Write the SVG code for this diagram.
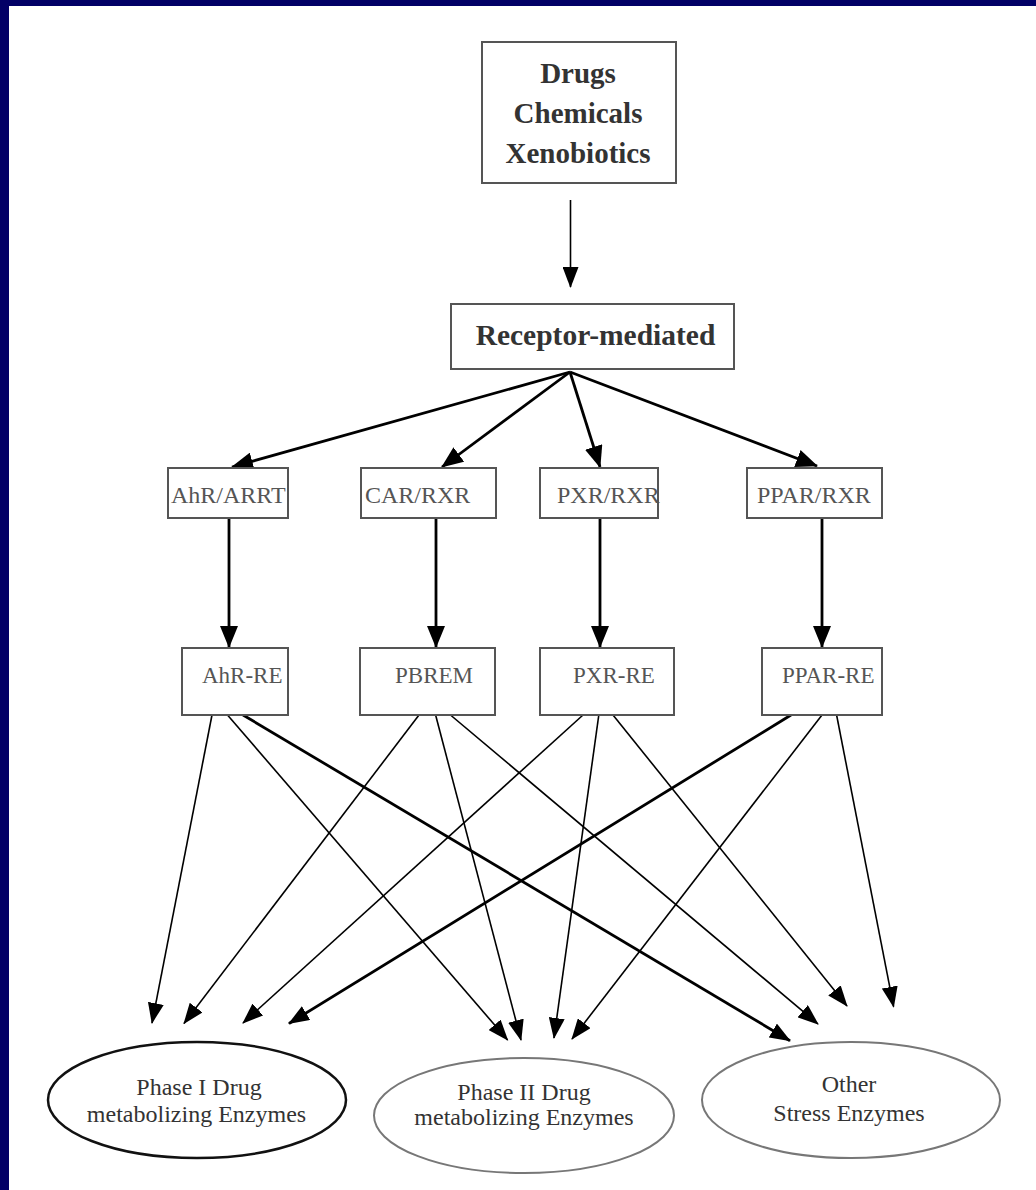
<svg xmlns="http://www.w3.org/2000/svg" width="1036" height="1190" viewBox="0 0 1036 1190">
  <defs>
    <marker id="ah" markerUnits="userSpaceOnUse" markerWidth="22" markerHeight="18" refX="21" refY="9" orient="auto">
      <path d="M0,0 L22,9 L0,18 z" fill="#000"/>
    </marker>
    <marker id="ahs" markerUnits="userSpaceOnUse" markerWidth="21" markerHeight="16" refX="20" refY="8" orient="auto">
      <path d="M0,0 L21,8 L0,16 z" fill="#000"/>
    </marker>
    <style>
      .box { fill: #fff; stroke: #555; stroke-width: 2; }
      .bold { font-family: "Liberation Serif", "Times New Roman", serif; font-weight: bold; font-size: 29px; fill: #333; text-anchor: middle; }
      .lbl { font-family: "Liberation Serif", "Times New Roman", serif; font-size: 24px; fill: #555; }
      .lbl3 { font-family: "Liberation Serif", "Times New Roman", serif; font-size: 23px; fill: #555; }
      .ell { fill: #fff; stroke: #777; stroke-width: 2; }
      .etx { font-family: "Liberation Serif", "Times New Roman", serif; font-size: 24px; fill: #333; text-anchor: middle; }
      .c { stroke: #000; fill: none; }
      .thick { stroke-width: 2.8; }
      .thin { stroke-width: 1.6; }
    </style>
  </defs>
  <rect x="0" y="0" width="1036" height="1190" fill="#fff"/>
  <rect x="0" y="0" width="1036" height="6" fill="#020066"/>
  <rect x="0" y="0" width="9" height="1190" fill="#020066"/>

  <g id="connectors">
    <line class="c thin" x1="570.5" y1="200" x2="570.5" y2="287" marker-end="url(#ahs)"/>
    <line class="c thick" x1="570" y1="372" x2="232" y2="467" marker-end="url(#ah)"/>
    <line class="c thick" x1="570" y1="372" x2="442" y2="467" marker-end="url(#ah)"/>
    <line class="c thick" x1="570" y1="372" x2="600" y2="467" marker-end="url(#ah)"/>
    <line class="c thick" x1="570" y1="372" x2="817" y2="466" marker-end="url(#ah)"/>
    <line class="c thick" x1="229" y1="518" x2="229" y2="647" marker-end="url(#ah)"/>
    <line class="c thick" x1="436" y1="518" x2="436" y2="647" marker-end="url(#ah)"/>
    <line class="c thick" x1="600" y1="518" x2="600" y2="647" marker-end="url(#ah)"/>
    <line class="c thick" x1="822" y1="518" x2="822" y2="647" marker-end="url(#ah)"/>
    <line class="c thin" x1="212" y1="715" x2="152" y2="1023" marker-end="url(#ahs)"/>
    <line class="c thin" x1="227.5" y1="715" x2="507.6" y2="1040" marker-end="url(#ahs)"/>
    <line class="c thick" x1="243" y1="715" x2="790" y2="1040.7" marker-end="url(#ahs)"/>
    <line class="c thin" x1="419" y1="715" x2="184" y2="1023.5" marker-end="url(#ahs)"/>
    <line class="c thin" x1="435.6" y1="715" x2="521" y2="1040" marker-end="url(#ahs)"/>
    <line class="c thin" x1="450.5" y1="715" x2="818" y2="1024" marker-end="url(#ahs)"/>
    <line class="c thin" x1="583" y1="715" x2="243" y2="1023" marker-end="url(#ahs)"/>
    <line class="c thin" x1="598.8" y1="715" x2="554" y2="1038" marker-end="url(#ahs)"/>
    <line class="c thin" x1="613" y1="715" x2="847" y2="1006" marker-end="url(#ahs)"/>
    <line class="c thick" x1="791" y1="715" x2="289" y2="1023.5" marker-end="url(#ahs)"/>
    <line class="c thin" x1="822" y1="715" x2="572" y2="1039" marker-end="url(#ahs)"/>
    <line class="c thin" x1="836.6" y1="715" x2="893.6" y2="1006.7" marker-end="url(#ahs)"/>
  </g>

  <g id="sources">
    <rect class="box" x="482" y="42" width="194" height="141"/>
    <text class="bold" x="578" y="83">Drugs</text>
    <text class="bold" x="578" y="123">Chemicals</text>
    <text class="bold" x="578" y="163">Xenobiotics</text>
  </g>
  <g id="receptor">
    <rect class="box" x="451" y="304" width="283" height="65"/>
    <text class="bold" x="595.5" y="345" style="font-size:29.5px">Receptor-mediated</text>
  </g>

  <g id="ahr-arrt"><rect class="box" x="168" y="468" width="120" height="50"/><text class="lbl" x="171" y="503">AhR/ARRT</text></g>
  <g id="car-rxr"><rect class="box" x="361" y="468" width="135" height="50"/><text class="lbl" x="365" y="503">CAR/RXR</text></g>
  <g id="pxr-rxr"><rect class="box" x="540" y="468" width="118" height="50"/><text class="lbl" x="557" y="503">PXR/RXR</text></g>
  <g id="ppar-rxr"><rect class="box" x="747" y="468" width="135" height="50"/><text class="lbl" x="757" y="503">PPAR/RXR</text></g>

  <g id="ahr-re"><rect class="box" x="182" y="648" width="106" height="67"/><text class="lbl3" x="202" y="683">AhR-RE</text></g>
  <g id="pbrem"><rect class="box" x="360" y="648" width="135" height="67"/><text class="lbl3" x="395" y="683">PBREM</text></g>
  <g id="pxr-re"><rect class="box" x="540" y="648" width="134" height="67"/><text class="lbl3" x="573" y="683">PXR-RE</text></g>
  <g id="ppar-re"><rect class="box" x="762" y="648" width="120" height="67"/><text class="lbl3" x="782" y="683">PPAR-RE</text></g>

  <g id="phase1">
    <ellipse class="ell" cx="197" cy="1100" rx="149" ry="58" style="stroke:#111;stroke-width:2.5"/>
    <text class="etx" x="199" y="1095">Phase I Drug</text>
    <text class="etx" x="196.5" y="1122">metabolizing Enzymes</text>
  </g>
  <g id="phase2">
    <ellipse class="ell" cx="524" cy="1115.5" rx="150" ry="57.5"/>
    <text class="etx" x="524" y="1100">Phase II Drug</text>
    <text class="etx" x="524" y="1125">metabolizing Enzymes</text>
  </g>
  <g id="other">
    <ellipse class="ell" cx="851" cy="1100" rx="149" ry="58"/>
    <text class="etx" x="849" y="1092">Other</text>
    <text class="etx" x="849" y="1121">Stress Enzymes</text>
  </g>
</svg>
